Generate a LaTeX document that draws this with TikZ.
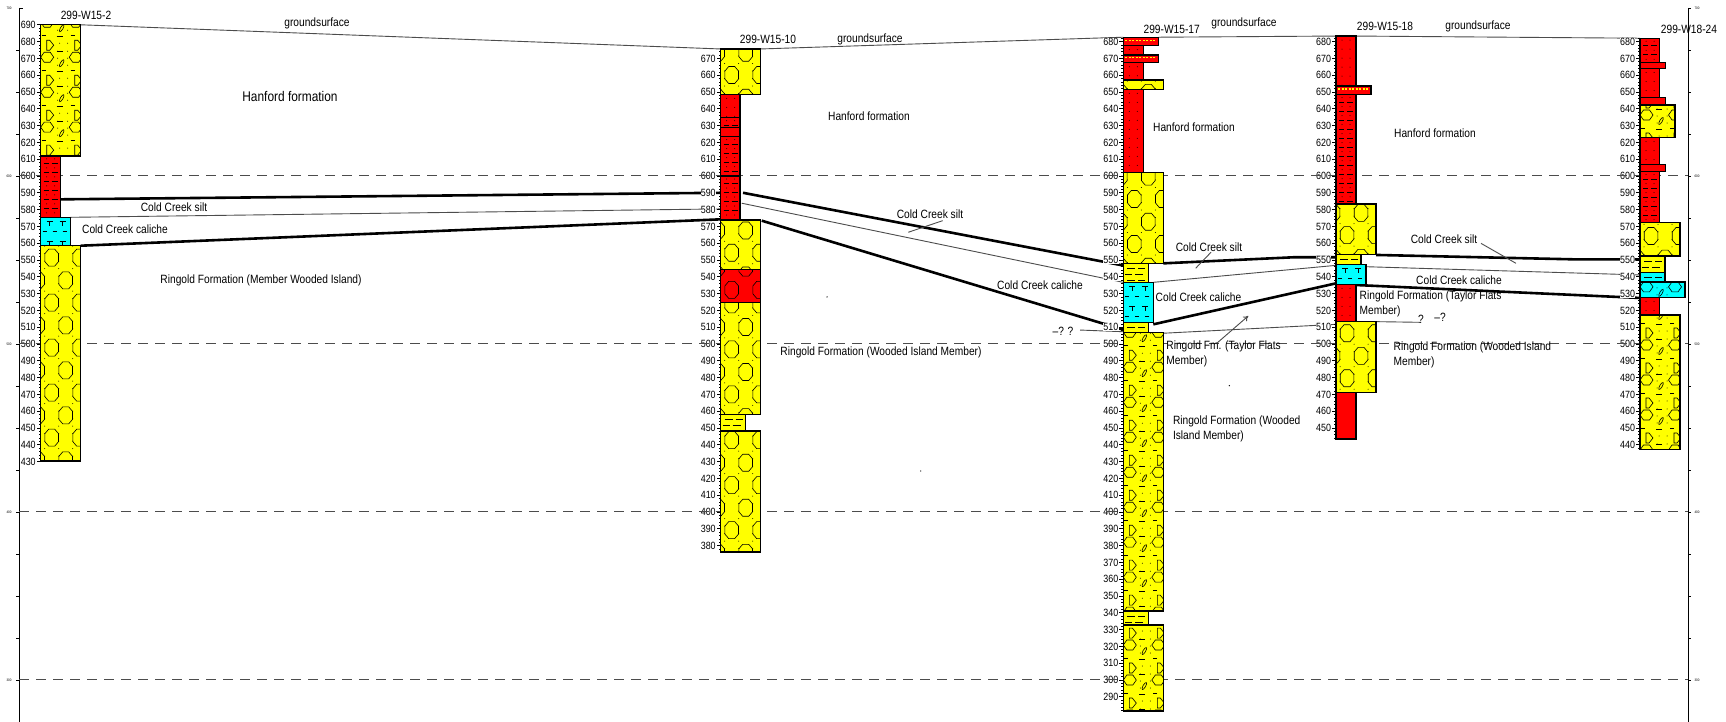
\documentclass[tikz,border=0pt]{standalone}
\usepackage{fontspec}
\setmainfont{Liberation Sans}[FakeStretch=0.85]
\usetikzlibrary{arrows.meta}
\definecolor{gravelyellow}{RGB}{255,255,0}
\definecolor{siltred}{RGB}{255,0,0}
\definecolor{calichecyan}{RGB}{0,255,255}
\tikzstyle{bedline}=[draw=black, line width=1.4pt]
\tikzstyle{patline}=[line width=0.6pt]
\tikzstyle{thickline}=[line width=2.6pt]
\tikzstyle{thinline}=[line width=0.9pt, draw=black!70]
\tikzstyle{surface}=[line width=0.9pt, draw=black!70]
\tikzstyle{datum}=[line width=1pt, draw=black!70, dash pattern=on 10pt off 7pt]
\tikzstyle{axisline}=[line width=0.8pt]
\tikzstyle{lbl}=[font=\fontsize{12}{15}\selectfont, inner sep=0.5pt]
\tikzstyle{welllbl}=[font=\fontsize{12}{14}\selectfont, inner sep=0.5pt]
\tikzstyle{depthlbl}=[font=\fontsize{10.5}{12}\selectfont, fill=white, inner sep=0.3pt, anchor=east]
\tikzstyle{tinylbl}=[font=\fontsize{3.5}{4}\selectfont, inner sep=0pt]
\tikzset{
  octs/.pic={
    \begin{scope}[x=1pt,y=1pt,patline]
      \foreach \cx/\cy in {11/0,39/0,25/-22.7,-3/-22.7}
        \draw[shift={(\cx,\cy)}] (-3,8.5)--(3,8.5)--(6.8,4)--(6.8,-4)--(3,-8.5)--(-3,-8.5)--(-6.8,-4)--(-6.8,4)--cycle;
    \end{scope}
  },
  gcell/.pic={
    \pic {octs};
    \begin{scope}[x=1pt,y=1pt]
      \foreach \dy in {-3.5,-11,-18.5,-26,-33.5,-41}
        \foreach \dx in {4,18,32}
          \fill (\dx,\dy) circle (0.5);
    \end{scope}
  },
  hcell/.pic={
    \begin{scope}[x=1pt,y=1pt,patline]
      \draw (0,0)--(3.5,5)--(9.5,5)--(13,0)--(9.5,-5)--(3.5,-5)--cycle;
      \draw (28.5,0)--(32,5)--(38,5)--(41.5,0)--(38,-5)--(32,-5)--cycle;
      \draw (16,6)--(22,6) (1,-13)--(5,-13) (16,-14)--(22,-14) (30,-13)--(34,-13);
      \draw[rotate around={-30:(21,-6)}] (21,-6) ellipse (1.3 and 4);
      \draw (6,-18)--(9,-18)--(13,-23)--(9,-28)--(6,-28)--cycle;
      \draw (34,-18)--(37,-18)--(41,-23)--(37,-28)--(34,-28)--cycle;
      \foreach \dx/\dy in {17/-1,27/-1,17/-8,27/-8,19/-21,27/-21,17/-29,27/-29}
        \fill (\dx,\dy) circle (0.5);
    \end{scope}
  },
  tcell/.pic={
    \begin{scope}[x=1pt,y=1pt,patline]
      \draw (6,0)--(12,0) (9,0)--(9,-5) (19,0)--(25,0) (22,0)--(22,-5);
      \draw (2,-10)--(6,-10) (12,-10)--(16,-10) (22,-10)--(26,-10);
    \end{scope}
  },
  dcell/.pic={
    \begin{scope}[x=1pt,y=1pt]
      \foreach \dx in {6,14,26,34} \fill (\dx,0) circle (0.5);
    \end{scope}
  },
  sscell/.pic={
    \begin{scope}[x=1pt,y=1pt,patline]
      \fill (6,0) circle (0.5) (14,0) circle (0.5);
      \draw (3,-4.5)--(8,-4.5) (11,-4.5)--(17,-4.5);
    \end{scope}
  },
  scell/.pic={
    \begin{scope}[x=1pt,y=1pt,patline]
      \draw (4,0)--(12,0) (15,0)--(22,0) (2,-6)--(9,-6) (12,-6)--(20,-6);
    \end{scope}
  }
}
\newcommand{\patlayer}[8]{%
  \begin{scope}
    \clip (#5,#8) rectangle (#6,#7);
    \fill[#1] (#5,#8) rectangle (#6,#7);
    \pgfmathtruncatemacro{\nrow}{(#7-#8)/#3+1}
    \foreach \k in {-1,...,\nrow} \pic at ({#5},{#7-#4-(\k)*#3}) {#2};
  \end{scope}
  \draw[bedline] (#5,#8) rectangle (#6,#7);
}
\newcommand{\gravelbed}[5]{\patlayer{gravelyellow}{gcell}{26.79}{#1}{#2}{#3}{#4}{#5}}
\newcommand{\redgravelbed}[5]{\patlayer{siltred}{octs}{26.79}{#1}{#2}{#3}{#4}{#5}}
\newcommand{\hanfordbed}[6]{\patlayer{#1}{hcell}{20.83}{#2}{#3}{#4}{#5}{#6}}
\newcommand{\sandbed}[4]{\patlayer{siltred}{dcell}{5.36}{2.4}{#1}{#2}{#3}{#4}}
\newcommand{\siltysandbed}[4]{\patlayer{siltred}{sscell}{5.36}{1.8}{#1}{#2}{#3}{#4}}
\newcommand{\siltbed}[5]{\patlayer{#1}{scell}{7.14}{3}{#2}{#3}{#4}{#5}}
\newcommand{\calichebed}[4]{\patlayer{calichecyan}{tcell}{11.9}{2.4}{#1}{#2}{#3}{#4}}
\newcommand{\plainbed}[5]{\fill[#1] (#2,#5) rectangle (#3,#4); \draw[bedline] (#2,#5) rectangle (#3,#4);}
\newcommand{\thinbed}[4]{%
  \fill[siltred] (#1,#4) rectangle (#2,#3);
  \draw[gravelyellow, line width=1.2pt, dash pattern=on 2pt off 1.5pt] ({#1+2},{#3-0.35*(#3-#4)}) -- ({#2-2},{#3-0.35*(#3-#4)});
  \draw[bedline] (#1,#4) rectangle (#2,#3);
}
\newcommand{\wellaxis}[6]{%
  \draw[axisline] (#2,#3) -- (#2,#4);
  \pgfmathtruncatemacro{\thi}{floor(#3/2)*2}
  \pgfmathtruncatemacro{\tlo}{ceil(#4/2)*2}
  \pgfmathtruncatemacro{\tnext}{\tlo+2}
  \foreach \e in {\tlo,\tnext,...,\thi} \draw[patline] (#2,\e) -- ++(-2pt,0);
  \pgfmathtruncatemacro{\lnext}{#6+10}
  \foreach \e in {#6,\lnext,...,#5} {
    \draw[patline] (#2,\e) -- ++(-4pt,0);
    \node[depthlbl, xshift=-4.5pt] (#1-\e) at (#2,\e) {\e};
  }
}

\begin{document}
\begin{tikzpicture}[x=1pt,y=1.68pt]
\fill[white] (0,275) rectangle (1726,704.76);
\useasboundingbox (0,275) rectangle (1726,704.76);

\coordinate (gs-w2) at (80.7,690);
\coordinate (gs-w10l) at (720.7,675.6);
\coordinate (gs-w10r) at (760.3,675.6);
\coordinate (gs-w17l) at (1123.3,682.6);
\coordinate (gs-w17r) at (1158.3,682.6);
\coordinate (gs-w18l) at (1336,683.3);
\coordinate (gs-w18r) at (1356,683.3);
\coordinate (gs-w24) at (1640,682);
\draw[surface] (gs-w2)--(gs-w10l);
\draw[surface] (gs-w10r)--(gs-w17l);
\draw[surface] (gs-w17r)--(gs-w18l);
\draw[surface] (gs-w18r)--(gs-w24);

\coordinate (w2-hf) at (60.3,586.1);
\coordinate (w2-cal) at (70.3,575.4);
\coordinate (w2-rf) at (80.7,558.5);
\coordinate (w10-hfl) at (720.7,590);
\coordinate (w10-call) at (720.7,580.4);
\coordinate (w10-rfl) at (720.7,574.2);
\coordinate (w10-hfr) at (743,590);
\coordinate (w10-calr) at (741.7,583.8);
\coordinate (w10-rfr) at (761.7,573.4);
\coordinate (w17-hfl) at (1123.3,546.7);
\coordinate (w17-call) at (1123.3,536.7);
\coordinate (w17-rfl) at (1123.3,508.5);
\coordinate (w17-tfl) at (1123.3,507.3);
\coordinate (w17-hfr) at (1163.3,548);
\coordinate (w17-calr) at (1153.3,536.7);
\coordinate (w17-rfr) at (1153.3,511.7);
\coordinate (w17-tfr) at (1163.3,506.4);
\coordinate (b18) at (1293,551.6);
\coordinate (w18-hfl) at (1336,551.6);
\coordinate (w18-call) at (1336,546.8);
\coordinate (w18-rfl) at (1336,536.1);
\coordinate (w18-tfl) at (1336,511.7);
\coordinate (w18-hfr) at (1376,553);
\coordinate (w18-calr) at (1366,546);
\coordinate (w18-rfr) at (1356,535.1);
\coordinate (w18-tfr) at (1376,513.3);
\coordinate (b24) at (1573,550.4);
\coordinate (w24-hf) at (1640,550.4);
\coordinate (w24-cal) at (1640,541.1);
\coordinate (w24-rf) at (1640,527.4);
\coordinate (q17-l) at (1080,508.3);
\coordinate (q18-r) at (1420,512.9);

\draw[thickline] (w2-hf)--(w10-hfl);
\draw[thinline] (w2-cal)--(w10-call);
\draw[thickline] (w2-rf)--(w10-rfl);
\draw[thickline] (w10-hfr)--(w17-hfl);
\draw[thinline] (w10-calr)--(w17-call);
\draw[thickline] (w10-rfr)--(w17-rfl);
\draw[thinline] (q17-l)--(w17-tfl);
\draw[thickline] (w17-hfr)--(b18)--(w18-hfl);
\draw[thinline] (w17-calr)--(w18-call);
\draw[thickline] (w17-rfr)--(w18-rfl);
\draw[thinline] (w17-tfr)--(w18-tfl);
\draw[thickline] (w18-hfr)--(b24)--(w24-hf);
\draw[thinline] (w18-calr)--(w24-cal);
\draw[thickline] (w18-rfr)--(w24-rf);
\draw[thinline] (w18-tfr)--(q18-r);

\wellaxis{w2}{40.7}{690}{430}{690}{430}
\wellaxis{w10}{720.7}{675.6}{376.2}{670}{380}
\wellaxis{w17}{1123.3}{682.6}{281.5}{680}{290}
\wellaxis{w18}{1336}{683.3}{443.5}{680}{450}
\wellaxis{w24}{1640}{682}{437.3}{680}{440}

\draw[axisline] (19,700) -- (19,275);
\draw[patline] (19,700) -- ++(4pt,0);
\foreach \e in {300,325,...,675} \draw[patline] (19,\e) -- ++(-3pt,0);
\foreach \e in {300,400,...,700} \node[tinylbl] (fl-\e) at (9,\e) {\e};
\draw[axisline] (1688,700) -- (1688,275);
\foreach \e in {300,325,...,700} \draw[patline] (1688,\e) -- ++(3pt,0);
\foreach \e in {300,400,...,700} \node[tinylbl] (fr-\e) at (1697,\e) {\e};

\foreach \e in {300,400,500,600} {
  \coordinate (lv\e-l) at (19,\e);
  \coordinate (lv\e-r) at (1688,\e);
  \draw[datum] (lv\e-l) -- (lv\e-r);
}

\hanfordbed{gravelyellow}{19.3}{40.7}{80.7}{690}{612}
\siltysandbed{40.7}{60.3}{612}{575.4}
\calichebed{40.7}{70.3}{575.4}{558.5}
\gravelbed{7.1}{40.7}{80.7}{558.5}{430.4}

\gravelbed{15.5}{720.7}{760.3}{675.6}{648.6}
\sandbed{720.7}{740}{648.6}{634.7}
\siltysandbed{720.7}{740}{634.7}{628.7}
\plainbed{siltred}{720.7}{740}{628.7}{623.4}
\siltysandbed{720.7}{740}{623.4}{600}
\siltysandbed{720.7}{740}{600}{573.8}
\gravelbed{19.5}{720.7}{760.3}{573.8}{544.5}
\redgravelbed{12.3}{720.7}{760.3}{544.5}{524.6}
\gravelbed{1}{720.7}{760.3}{524.6}{457.9}
\siltbed{gravelyellow}{720.7}{745.7}{457.9}{448.2}
\gravelbed{5.4}{720.7}{760.3}{448.2}{376.2}

\thinbed{1123.3}{1158.3}{682.6}{677.6}
\sandbed{1123.3}{1143.3}{677.6}{672}
\thinbed{1123.3}{1158.3}{672}{667.4}
\sandbed{1123.3}{1143.3}{667.4}{657.1}
\gravelbed{-5.9}{1123.3}{1163.3}{657.1}{651.6}
\sandbed{1123.3}{1143.3}{651.6}{602.2}
\gravelbed{15.9}{1123.3}{1163.3}{602.2}{548}
\siltbed{gravelyellow}{1123.3}{1148.3}{548}{536.7}
\calichebed{1123.3}{1153.3}{536.7}{512.9}
\siltbed{gravelyellow}{1123.3}{1148.3}{512.9}{507}
\hanfordbed{gravelyellow}{0}{1123.3}{1163.3}{507}{341}
\siltbed{gravelyellow}{1123.3}{1148.7}{341}{332.7}
\hanfordbed{gravelyellow}{11.9}{1123.3}{1163.3}{332.7}{281.5}

\sandbed{1336}{1356}{683.3}{653.6}
\thinbed{1336}{1371}{653.6}{648.4}
\siltysandbed{1336}{1356}{648.4}{583.3}
\gravelbed{18.5}{1336}{1376}{583.3}{553.4}
\siltbed{gravelyellow}{1336}{1361}{553.4}{547.4}
\calichebed{1336}{1366}{547.4}{535.5}
\sandbed{1336}{1356}{535.5}{513.5}
\gravelbed{7.1}{1336}{1376}{513.5}{471}
\plainbed{siltred}{1336}{1356}{471}{443.5}

\siltysandbed{1640}{1659.3}{682}{667.4}
\plainbed{siltred}{1640}{1665.3}{667.4}{664}
\sandbed{1640}{1659.3}{664}{646.8}
\plainbed{siltred}{1640}{1665.3}{646.8}{642.3}
\hanfordbed{gravelyellow}{6}{1640}{1675}{642.3}{622.8}
\sandbed{1640}{1659.3}{622.8}{607}
\plainbed{siltred}{1640}{1665.3}{607}{602.6}
\siltysandbed{1640}{1659.3}{602.6}{572.2}
\gravelbed{7.9}{1640}{1680}{572.2}{552.4}
\siltbed{gravelyellow}{1640}{1665}{552.4}{542.4}
\siltbed{calichecyan}{1640}{1665}{542.4}{537}
\hanfordbed{calichecyan}{3}{1640}{1685}{537}{527.6}
\sandbed{1640}{1659.3}{527.6}{517.3}
\hanfordbed{gravelyellow}{17.9}{1640}{1680}{517.3}{437.3}

\node[welllbl] (w2) at (86,695.8) {299-W15-2};
\node[welllbl] (w10) at (768,681.5) {299-W15-10};
\node[welllbl] (w17) at (1171.7,687.3) {299-W15-17};
\node[welllbl] (w18) at (1385,688.9) {299-W15-18};
\node[welllbl] (w24) at (1689,687.3) {299-W18-24};

\node[lbl] (gs1) at (317,690.9) {groundsurface};
\node[lbl, font=\fontsize{14}{16}\selectfont] (hf1) at (290,647.6) {Hanford formation};
\node[lbl] (ccs1) at (174,581.4) {Cold Creek silt};
\node[lbl] (ccc1) at (125,568.3) {Cold Creek caliche};
\node[lbl] (rwi1) at (261,537.7) {Ringold Formation (Member Wooded Island)};

\node[lbl] (gs2) at (870,681.4) {groundsurface};
\node[lbl] (hf2) at (869,635.7) {Hanford formation};
\node[lbl] (ccs2) at (930,577.2) {Cold Creek silt};
\node[lbl] (ccc2) at (1040,535.1) {Cold Creek caliche};
\node[lbl] (rwi2) at (881,494.8) {Ringold Formation (Wooded Island Member)};

\node[lbl] (gs3) at (1244,690.9) {groundsurface};
\node[lbl] (hf3) at (1194,629.3) {Hanford formation};
\node[lbl] (ccs3) at (1209,557.9) {Cold Creek silt};
\node[lbl, anchor=west] (ccc3) at (1155,527.6) {Cold Creek caliche};
\node[lbl] (q17) at (1063,507.7) {--? ?};
\node[lbl, anchor=west, align=left] (rtf3) at (1165.7,493.9) {Ringold Fm. (Taylor Flats\\Member)};
\node[lbl, anchor=west, align=left] (rwi3) at (1172.3,449.6) {Ringold Formation (Wooded\\Island Member)};

\node[lbl] (gs4) at (1478,688.9) {groundsurface};
\node[lbl] (hf4) at (1435,625.4) {Hanford formation};
\node[lbl] (ccs4) at (1444,562.3) {Cold Creek silt};
\node[lbl] (ccc4) at (1459,538.1) {Cold Creek caliche};
\node[lbl, anchor=west, align=left] (rtf4) at (1359,523.9) {Ringold Formation (Taylor Flats\\Member)};
\node[lbl] (q18a) at (1421,514.7) {?};
\node[lbl] (q18b) at (1440,515.9) {--?};
\node[lbl, anchor=west, align=left] (rwi4) at (1393,493.7) {Ringold Formation (Wooded Island\\Member)};

\coordinate (ccs2a) at (942.7,573.4);
\coordinate (ccs2b) at (908.3,566.5);
\coordinate (ccs3a) at (1211,554.6);
\coordinate (ccs3b) at (1195.7,545.1);
\coordinate (ccs4a) at (1481,559.9);
\coordinate (ccs4b) at (1516,548.0);
\coordinate (arr-a) at (1216.7,500.4);
\coordinate (arr-b) at (1248.3,516.7);
\draw[thinline] (ccs2a)--(ccs2b);
\draw[thinline] (ccs3a)--(ccs3b);
\draw[thinline] (ccs4a)--(ccs4b);
\draw[thinline, -{To[length=5pt,width=6pt]}] (arr-a)--(arr-b);

\fill (827,528) circle (0.7pt);
\fill (920.7,424.4) circle (0.7pt);
\fill (1229.3,475.2) circle (0.7pt);
\end{tikzpicture}
\end{document}
